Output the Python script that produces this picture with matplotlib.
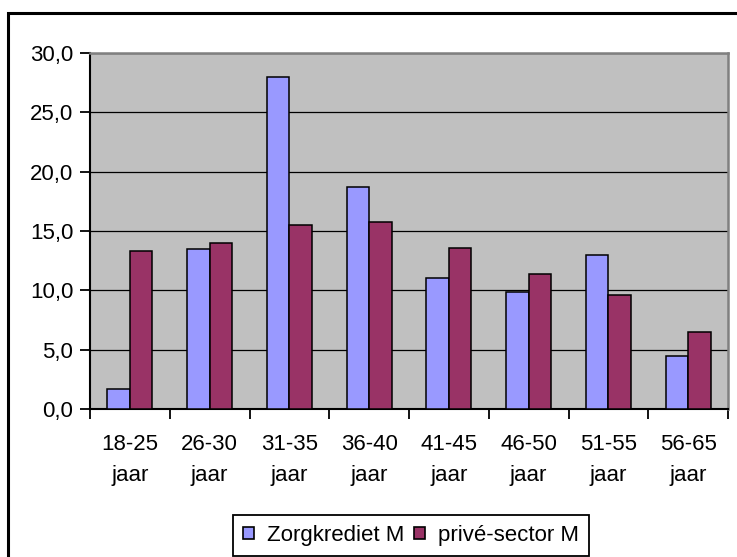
import matplotlib.pyplot as plt
import numpy as np
from matplotlib.patches import Patch, Rectangle
from matplotlib.ticker import FuncFormatter

plt.rcParams['font.family'] = ['Liberation Sans', 'DejaVu Sans']

age_groups = ['18-25\njaar', '26-30\njaar', '31-35\njaar', '36-40\njaar',
              '41-45\njaar', '46-50\njaar', '51-55\njaar', '56-65\njaar']
zorgkrediet = [1.7, 13.5, 28.0, 18.7, 11.0, 9.9, 13.0, 4.5]
prive_sector = [13.3, 14.0, 15.5, 15.8, 13.6, 11.4, 9.6, 6.5]
series_names = ['Zorgkrediet M', 'privé-sector M']
colors = ['#9999FF', '#993366']

W, H = 737, 557
fig = plt.figure(figsize=(W / 100, H / 100), dpi=100, facecolor='white')
ax = fig.add_axes([90 / W, 1 - 409 / H, 638 / W, 356 / H])

x = np.arange(len(age_groups))
bw = 0.282
ax.bar(x - bw / 2, zorgkrediet, bw, color=colors[0], edgecolor='black',
       linewidth=1.1, zorder=3)
ax.bar(x + bw / 2, prive_sector, bw, color=colors[1], edgecolor='black',
       linewidth=1.1, zorder=3)

ax.set_facecolor('#C0C0C0')
ax.set_xlim(-0.5, len(age_groups) - 0.5)
ax.set_ylim(0, 30)
ax.set_yticks(np.arange(0, 31, 5))
ax.yaxis.set_major_formatter(FuncFormatter(lambda v, p: f'{v:.1f}'.replace('.', ',')))
ax.yaxis.grid(True, color='black', linewidth=0.9, zorder=1)
ax.set_axisbelow(True)

# labels in the middle of each group, tick marks on the group boundaries
ax.set_xticks(x)
ax.set_xticklabels(age_groups, linespacing=1.6)
ax.set_xticks(np.arange(-0.5, len(age_groups)), minor=True)
ax.tick_params(axis='x', which='major', length=0, pad=18, labelsize=16)
ax.tick_params(axis='x', which='minor', length=7, width=1.3, direction='out')
ax.tick_params(axis='y', length=7, width=1.3, pad=5, labelsize=16)

for side in ['left', 'bottom']:
    ax.spines[side].set_color('black')
    ax.spines[side].set_linewidth(1.5)
for side in ['top', 'right']:
    ax.spines[side].set_color('#808080')
    ax.spines[side].set_linewidth(1.8)

# chart frame
fig.patches.append(Rectangle((8 / W, -0.1), 2, 1.1 - 13.5 / H, transform=fig.transFigure,
                             fill=False, edgecolor='black', linewidth=2.2, zorder=0))

handles = [Patch(facecolor=c, edgecolor='black', linewidth=1.2) for c in colors]
leg = fig.legend(handles, series_names, loc='upper left',
                 bbox_to_anchor=(233 / W, 1 - 515 / H), ncol=2, fontsize=16,
                 frameon=True, fancybox=False, framealpha=1, edgecolor='black',
                 handlelength=0.5, handleheight=0.5, handletextpad=0.6,
                 columnspacing=0.4, borderpad=0.45, borderaxespad=0)
leg.get_frame().set_linewidth(1.3)

fig.savefig('out.png', dpi=100, facecolor='white')
